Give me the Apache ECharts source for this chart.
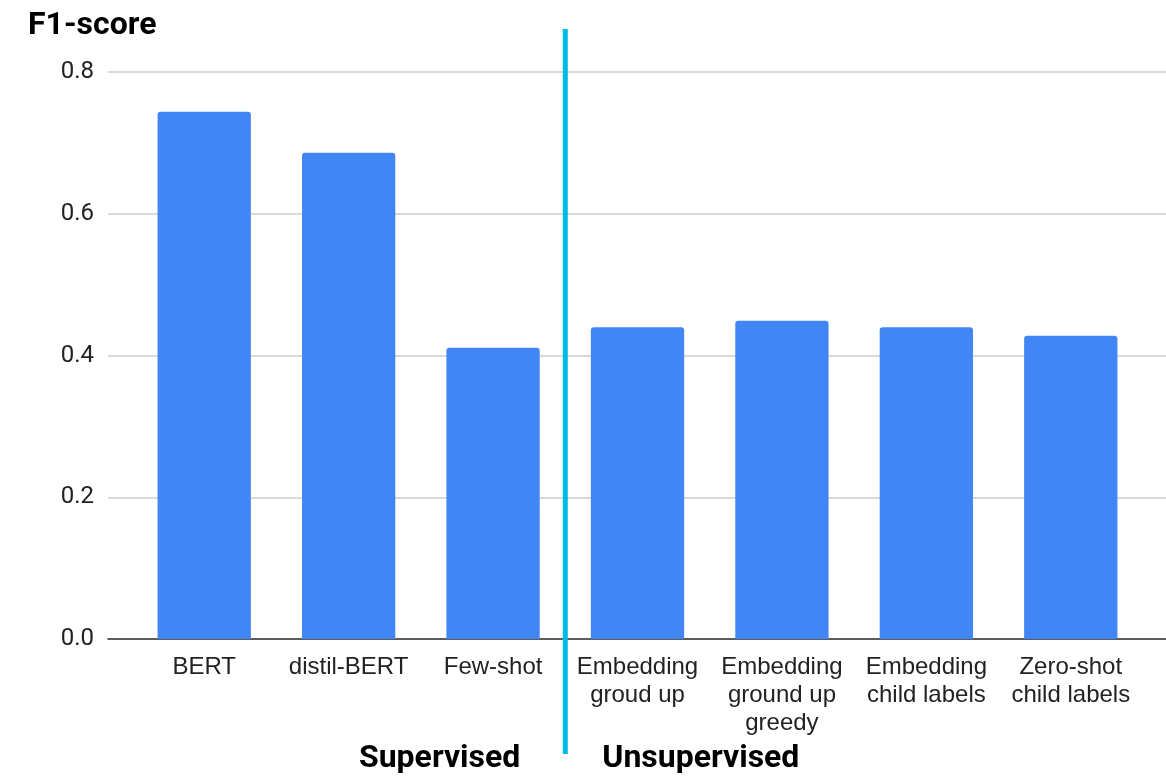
<!DOCTYPE html>
<html>
<head>
<meta charset="utf-8">
<title>F1-score by method</title>
<script src="https://cdn.jsdelivr.net/npm/echarts@6/dist/echarts.min.js"></script>
<style>
  html, body { margin: 0; padding: 0; background: #ffffff; }
  #chart { width: 1166px; height: 776px; }
</style>
</head>
<body>
<div id="chart"></div>
<script>
// Methods compared, in display order
const categories = [
  'BERT',
  'distil-BERT',
  'Few-shot',
  'Embedding\ngroud up',
  'Embedding\nground up\ngreedy',
  'Embedding\nchild labels',
  'Zero-shot\nchild labels'
];
// F1-score of each method
const f1Scores = [0.744, 0.686, 0.411, 0.440, 0.449, 0.440, 0.428];
// Value-axis ticks
const yTicks = [0.0, 0.2, 0.4, 0.6, 0.8];
// Group captions under the axis: label and how many methods belong to it
const groupNames = ['Supervised', 'Unsupervised'];
const groupSizes = [3, 4];

const yMin = yTicks[0];
const yMax = yTicks[yTicks.length - 1];
const yStep = yTicks[1] - yTicks[0];

const chart = echarts.init(document.getElementById('chart'), null, { renderer: 'canvas' });

const option = {
  backgroundColor: '#ffffff',
  animation: false,
  title: {
    text: 'F1-score',
    left: 23,
    top: 5,
    textStyle: { fontFamily: 'Roboto', fontWeight: 'bold', fontSize: 32, color: '#000000' }
  },
  grid: [
    // background grid: gridlines and baseline across the full width
    { left: 108, right: 0, top: 72, bottom: 137 },
    // bars
    { left: 132, right: 23, top: 72, bottom: 137 }
  ],
  xAxis: [
    {
      type: 'category', gridIndex: 0, data: [''],
      axisLine: { show: true, lineStyle: { color: '#333333', width: 1.5 } },
      axisTick: { show: false }, axisLabel: { show: false }, splitLine: { show: false }
    },
    {
      type: 'category', gridIndex: 1, data: categories,
      axisLine: { show: false }, axisTick: { show: false },
      axisLabel: {
        interval: 0, margin: 14,
        fontFamily: 'Liberation Sans', fontSize: 24, lineHeight: 28, color: '#222222'
      }
    }
  ],
  yAxis: [
    {
      type: 'value', gridIndex: 0, min: yMin, max: yMax, interval: yStep,
      axisLine: { show: false }, axisTick: { show: false },
      axisLabel: {
        margin: 14, fontFamily: 'Roboto', fontSize: 24, color: '#222222',
        formatter: v => v.toFixed(1)
      },
      splitLine: { lineStyle: { color: '#cccccc', width: 1.5 } }
    },
    {
      type: 'value', gridIndex: 1, min: yMin, max: yMax, interval: yStep,
      show: false, splitLine: { show: false }
    }
  ],
  series: [
    {
      type: 'bar', xAxisIndex: 1, yAxisIndex: 1,
      data: f1Scores,
      barCategoryGap: '35.4%',
      itemStyle: { color: '#4285f4', borderRadius: [3, 3, 0, 0] },
      z: 3
    }
  ]
};

chart.setOption(option);

// Divider between the groups sits on the boundary between their categories;
// each group caption hugs the divider on its own side.
const px = i => chart.convertToPixel({ xAxisIndex: 1 }, categories[i]);
const divX = (px(groupSizes[0] - 1) + px(groupSizes[0])) / 2;
const captionStyle = {
  fontFamily: 'Roboto', fontWeight: 'bold', fontSize: 32, fill: '#000000',
  textVerticalAlign: 'middle'
};
chart.setOption({
  graphic: [
    {
      type: 'line',
      shape: { x1: divX, y1: 29, x2: divX, y2: 754 },
      style: { stroke: '#00bce4', lineWidth: 5 },
      z: 10
    },
    {
      type: 'text', x: divX - 45, y: 759,
      style: Object.assign({ text: groupNames[0], textAlign: 'right' }, captionStyle),
      z: 10
    },
    {
      type: 'text', x: divX + 37, y: 759,
      style: Object.assign({ text: groupNames[1], textAlign: 'left' }, captionStyle),
      z: 10
    }
  ]
});
</script>
</body>
</html>
